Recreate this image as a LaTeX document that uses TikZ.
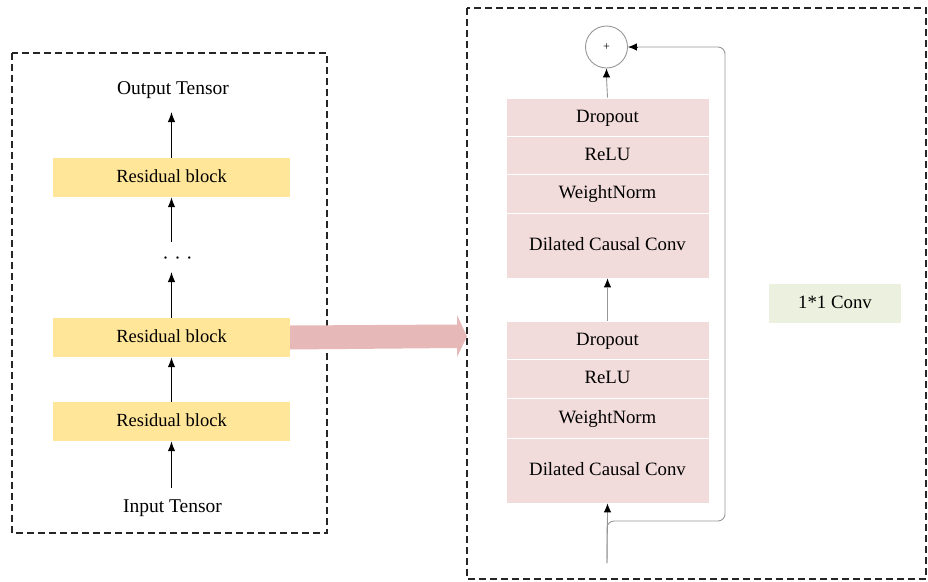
\documentclass[tikz,border=0pt]{standalone}
\usepackage{fontspec}
\setmainfont{Liberation Serif}
\usetikzlibrary{arrows.meta}
\definecolor{resblk}{RGB}{255,230,153}
\definecolor{layer}{RGB}{242,220,219}
\definecolor{bigarrow}{RGB}{230,184,183}
\definecolor{convfill}{RGB}{235,241,222}
\definecolor{wire}{RGB}{150,150,150}
\begin{document}
\begin{tikzpicture}[x=1pt,y=-1pt,
  frame/.style={draw=black!85, line width=1.2pt, dash pattern=on 7pt off 4pt},
  resbox/.style={fill=resblk, minimum width=237pt, minimum height=39pt, inner sep=0pt,
    text height=12pt, text depth=2pt, font=\fontsize{18.5}{21}\selectfont},
  layerbox/.style={fill=layer, draw=white, line width=0.8pt, minimum width=203pt, inner sep=0pt,
    text height=12pt, text depth=2pt, font=\fontsize{18.8}{21}\selectfont},
  lbl/.style={font=\fontsize{19.5}{22}\selectfont, inner sep=0pt},
  flow/.style={-{Latex[length=10pt,width=7.5pt]}, line width=1.2pt},
  wireline/.style={draw=wire, line width=0.9pt},
  blacktip/.style={-{Latex[length=9pt,width=7.5pt]}, draw=black, line width=0.9pt}
]
\useasboundingbox (0,0) rectangle (928,581);

% ---------- outer dashed frames ----------
\draw[frame] (12,53) rectangle (327,533);
\draw[frame] (467,8) rectangle (926,579);

% ---------- left column: stack of residual blocks ----------
\node[lbl, anchor=base] (out) at (173,94) {Output Tensor};
\node[resbox] (rb3) at (171.5,177.5) {Residual block};
\node[lbl, anchor=base] (dots) at (177.5,264) {·\hspace{5.5pt}·\hspace{5.5pt}·};
\node[resbox] (rb2) at (171.5,337.5) {Residual block};
\node[resbox] (rb1) at (171.5,421.5) {Residual block};
\node[lbl, anchor=base] (in) at (172.5,512) {Input Tensor};

\coordinate (outfoot) at (171.5,112);
\coordinate (dotstop) at (171.5,242);
\coordinate (dotsfoot) at (171.5,272);
\coordinate (infoot) at (171.5,488);

\draw[flow] (infoot) -- (rb1.south);
\draw[flow] (rb1.north) -- (rb2.south);
\draw[flow] (rb2.north) -- (dotsfoot);
\draw[flow] (dotstop) -- (rb3.south);
\draw[flow] (rb3.north) -- (outfoot);

% ---------- wide arrow into the expanded block ----------
\fill[bigarrow] (290,325.5) -- (457,324.5) -- (457,315) -- (467,336.5)
  -- (457,357) -- (457,348) -- (290,349.5) -- cycle;

% ---------- right column: expanded residual block ----------
\node[layerbox, minimum height=38pt] (tdo) at (607.5,117) {Dropout};
\node[layerbox, minimum height=38pt] (tre) at (607.5,155) {ReLU};
\node[layerbox, minimum height=39pt] (twn) at (607.5,193.5) {WeightNorm};
\node[layerbox, minimum height=65pt] (tdc) at (607.5,245.5) {Dilated Causal Conv};

\node[layerbox, minimum height=38pt] (bdo) at (607.5,340) {Dropout};
\node[layerbox, minimum height=39pt] (bre) at (607.5,378.5) {ReLU};
\node[layerbox, minimum height=40pt] (bwn) at (607.5,418) {WeightNorm};
\node[layerbox, minimum height=65pt] (bdc) at (607.5,470.5) {Dilated Causal Conv};

\node[circle, draw=wire, line width=0.9pt, minimum size=42pt, inner sep=0pt,
  font=\fontsize{12}{12}\selectfont] (sum) at (606.5,47) {+};

\node[fill=convfill, minimum width=132pt, minimum height=39pt, inner sep=0pt,
  text height=12pt, text depth=2pt, font=\fontsize{18.8}{21}\selectfont] (conv) at (835,303.5) {1*1 Conv};

\coordinate (feed) at (607,563);
\coordinate (split) at (607,521);
\coordinate (skipturn) at (725,521);
\coordinate (skiptop) at (725,47);

% black arrow heads at the ends of the grey wires
\draw[blacktip] ([yshift=-10pt]bdc.south) -- (bdc.south);
\draw[blacktip] ([yshift=-10pt]tdc.south) -- (tdc.south);
\draw[blacktip] ([yshift=-10pt]sum.south) -- (sum.south);
\draw[blacktip] ([xshift=10pt]sum.east) -- (sum.east);

% skip connection around the two stacks
\draw[wireline, rounded corners=7pt] (feed) -- (split) -- (skipturn) -- (skiptop)
  -- ([xshift=9pt]sum.east);
% main path
\draw[wireline] (feed) -- ([yshift=-9pt]bdc.south);
\draw[wireline] (bdo.north) -- ([yshift=-9pt]tdc.south);
\draw[wireline] (tdo.north) -- ([yshift=-9pt]sum.south);
\end{tikzpicture}
\end{document}
